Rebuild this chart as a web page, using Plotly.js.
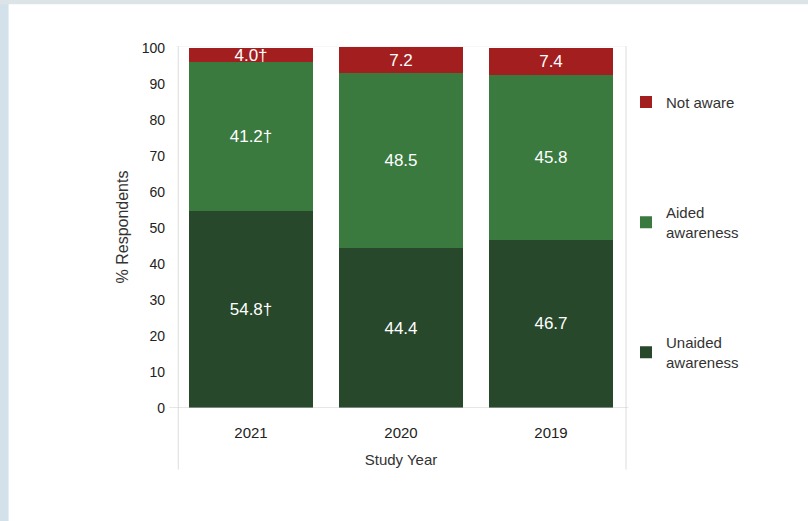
<!DOCTYPE html>
<html>
<head>
<meta charset="utf-8">
<script src="https://cdn.plot.ly/plotly-3.0.1.min.js"></script>
<style>html,body{margin:0;padding:0;background:#fff;}#chart{width:808px;height:521px;}</style>
</head>
<body>
<div id="chart"></div>
<script>
const years = ["2021", "2020", "2019"];
const unaided = [54.8, 44.4, 46.7];
const aided = [41.2, 48.5, 45.8];
const notAware = [4.0, 7.2, 7.4];
const unaidedLabels = ["54.8†", "44.4", "46.7"];
const aidedLabels = ["41.2†", "48.5", "45.8"];
const notAwareLabels = ["4.0†", "7.2", "7.4"];
const yTicks = [0, 10, 20, 30, 40, 50, 60, 70, 80, 90, 100];

const common = {
  type: 'bar', x: years, textposition: 'inside', insidetextanchor: 'middle',
  textangle: 0, hoverinfo: 'none',
  insidetextfont: {family: 'Liberation Sans, Arial, sans-serif', size: 17, color: '#ffffff'}
};
const data = [
  Object.assign({}, common, {name: 'Unaided<br>awareness', y: unaided, text: unaidedLabels,
    marker: {color: '#27482b'}, legendgroup: 'c', legendrank: 3}),
  Object.assign({}, common, {name: 'Aided<br>awareness', y: aided, text: aidedLabels,
    marker: {color: '#3a7a3f'}, legendgroup: 'b', legendrank: 2}),
  Object.assign({}, common, {name: 'Not aware', y: notAware, text: notAwareLabels,
    marker: {color: '#a31f1f'}, legendgroup: 'a', legendrank: 1})
];
const layout = {
  width: 808, height: 521,
  margin: {l: 176, r: 182, t: 46, b: 113},
  paper_bgcolor: '#ffffff', plot_bgcolor: '#ffffff',
  barmode: 'stack', bargap: 0.17,
  font: {family: 'Liberation Sans, Arial, sans-serif', size: 15, color: '#222'},
  uniformtext: {mode: 'show', minsize: 17},
  xaxis: {
    type: 'category', showgrid: false, zeroline: false, showline: false, ticks: '',
    tickfont: {size: 15, color: '#222'}, ticklabelstandoff: 14,
    title: {text: 'Study Year', font: {size: 15, color: '#333'}, standoff: 14}
  },
  yaxis: {
    range: [0, 100.5], tickvals: yTicks, showgrid: false, zeroline: false,
    showline: false, ticks: '', ticklen: 0,
    tickfont: {size: 14, color: '#222'}, ticklabelstandoff: 10,
    title: {text: '% Respondents', font: {size: 16, color: '#333'}, standoff: 9}
  },
  legend: {
    x: 1.0, xanchor: 'left', y: 0.89, yanchor: 'top',
    tracegroupgap: 88, itemwidth: 30,
    font: {size: 15, color: '#333'}, bgcolor: 'rgba(0,0,0,0)'
  },
  shapes: [
    {type: 'line', xref: 'paper', yref: 'paper', x0: 0.005, x1: 0.005, y0: 1, y1: -0.17,
      line: {color: '#dddddd', width: 1}},
    {type: 'line', xref: 'paper', yref: 'paper', x0: 1, x1: 1, y0: 1, y1: -0.17,
      line: {color: '#dddddd', width: 1}},
    {type: 'line', xref: 'paper', yref: 'y', x0: -0.015, x1: 1.005, y0: 0, y1: 0,
      line: {color: '#cccccc', width: 1}},
    {type: 'line', xref: 'paper', yref: 'y', x0: 0, x1: 1, y0: 100.5, y1: 100.5,
      line: {color: '#eeeeee', width: 1}},
    {type: 'rect', xref: 'paper', yref: 'paper', x0: -0.392, x1: -0.372, y0: -0.32, y1: 1.13,
      fillcolor: '#d3e2ea', line: {width: 0}, layer: 'below'},
    {type: 'rect', xref: 'paper', yref: 'paper', x0: -0.392, x1: 1.41, y0: 1.115, y1: 1.13,
      fillcolor: '#dde4e8', line: {width: 0}, layer: 'below'}
  ]
};
Plotly.newPlot('chart', data, layout, {displayModeBar: false, staticPlot: true});
</script>
</body>
</html>
